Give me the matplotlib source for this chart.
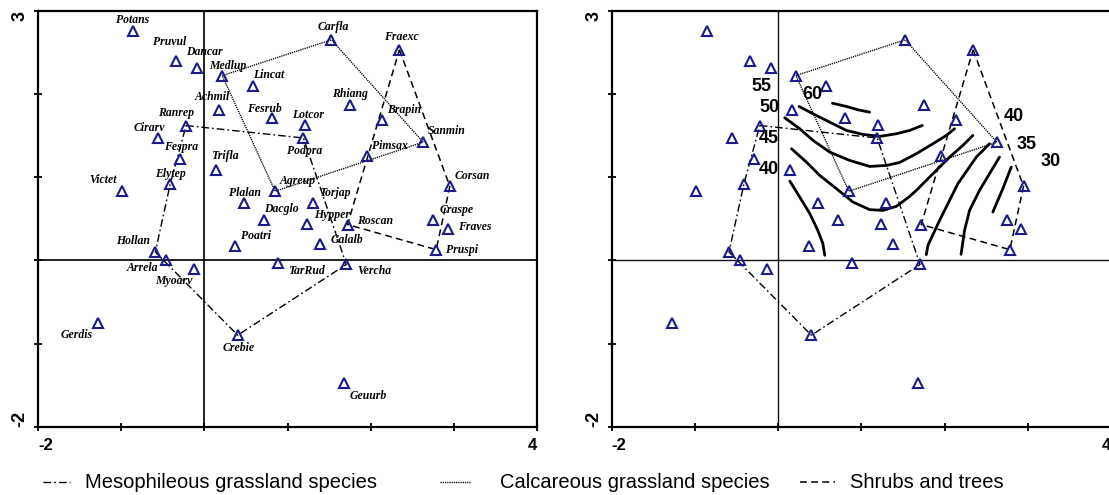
import matplotlib
matplotlib.use("Agg")
import matplotlib.pyplot as plt
from matplotlib.lines import Line2D

# ---------------- data ----------------
species = ["Potans", "Pruvul", "Dancar", "Medlup", "Lincat", "Achmil", "Fesrub",
           "Ranrep", "Cirarv", "Fespra", "Trifla", "Elytep", "Victet", "Plalan",
           "Agreup", "Dacglo", "Carfla", "Fraexc", "Rhiang", "Brapin", "Lotcor",
           "Podpra", "Sanmin", "Pimsax", "Corsan", "Torjap", "Hypper", "Roscan",
           "Craspe", "Fraves", "Galalb", "Pruspi", "TarRud", "Vercha", "Geuurb",
           "Poatri", "Hollan", "Arrela", "Myoarv", "Gerdis", "Crebie"]
axis1 = [-0.86, -0.34, -0.087, 0.214, 0.58, 0.17, 0.81,
         -0.22, -0.556, -0.29, 0.14, -0.41, -0.985, 0.48,
         0.85, 0.72, 1.526, 2.344, 1.75, 2.136, 1.205,
         1.19, 2.63, 1.955, 2.95, 1.30, 1.233, 1.72,
         2.75, 2.925, 1.385, 2.786, 0.89, 1.706, 1.68,
         0.37, -0.59, -0.456, -0.13, -1.28, 0.40]
axis2 = [2.76, 2.40, 2.31, 2.22, 2.10, 1.81, 1.71,
         1.62, 1.47, 1.22, 1.09, 0.92, 0.83, 0.69,
         0.83, 0.49, 2.65, 2.53, 1.87, 1.69, 1.63,
         1.47, 1.42, 1.25, 0.89, 0.69, 0.436, 0.43,
         0.48, 0.376, 0.20, 0.128, -0.03, -0.05, -1.47,
         0.168, 0.10, 0.0, -0.10, -0.756, -0.90]

# species groups (hull vertices, by name)
meso_hull = ["Ranrep", "Podpra", "Vercha", "Crebie", "Hollan", "Elytep", "Ranrep"]
calc_hull = ["Medlup", "Carfla", "Sanmin", "Agreup", "Medlup"]
shrub_hull = ["Fraexc", "Corsan", "Pruspi", "Roscan", "Fraexc"]

group_labels = ["Mesophileous grassland species", "Calcareous grassland species",
                "Shrubs and trees"]

# isolines (level, x values, y values)
iso_levels = [60, 55, 50, 45, 40, 40, 35, 30]
iso_x = [
    [0.653, 0.821, 0.961, 1.101],
    [0.252, 0.420, 0.621, 0.821, 1.020, 1.221, 1.421, 1.581, 1.734],
    [0.080, 0.260, 0.420, 0.621, 0.861, 1.101, 1.301, 1.461, 1.661, 1.861, 2.022, 2.121],
    [0.161, 0.341, 0.501, 0.701, 0.900, 1.101, 1.261, 1.421, 1.581, 1.661, 1.861, 2.061, 2.221, 2.341],
    [0.141, 0.260, 0.381, 0.477, 0.537, 0.561],
    [2.541, 2.382, 2.161, 1.941, 1.801, 1.781],
    [2.661, 2.541, 2.421, 2.301, 2.241, 2.199],
    [2.802, 2.701, 2.581],
]
iso_y = [
    [1.888, 1.849, 1.809, 1.780],
    [1.849, 1.761, 1.660, 1.561, 1.513, 1.489, 1.521, 1.561, 1.621],
    [1.713, 1.581, 1.441, 1.300, 1.200, 1.128, 1.140, 1.176, 1.281, 1.401, 1.501, 1.581],
    [1.341, 1.180, 1.020, 0.861, 0.700, 0.609, 0.600, 0.648, 0.768, 0.840, 1.041, 1.240, 1.381, 1.501],
    [0.952, 0.760, 0.561, 0.360, 0.204, 0.060],
    [1.401, 1.240, 0.921, 0.480, 0.180, 0.068],
    [1.240, 1.041, 0.840, 0.600, 0.360, 0.072],
    [1.120, 0.861, 0.580],
]
iso_label_x = [0.408, -0.199, -0.108, -0.108, -0.108, 2.829, 2.982, 3.282]
iso_label_y = [1.989, 2.089, 1.833, 1.461, 1.089, 1.732, 1.393, 1.188]

# ---------------- styling ----------------
label_offsets = {  # pixel offsets of label centre from marker (dx, dy up)
    "Potans": (0, 11), "Pruvul": (-6, 19), "Dancar": (7.5, 16), "Medlup": (6, 9.6),
    "Lincat": (16, 11), "Achmil": (-6, 12.6), "Fesrub": (-7.7, 9), "Ranrep": (-10, 12.3),
    "Cirarv": (-8.3, 10.3), "Fespra": (0.7, 11.3), "Trifla": (9, 13.6), "Elytep": (0, 9.7),
    "Victet": (-19, 11), "Plalan": (0.7, 10), "Agreup": (22.5, 10.7), "Dacglo": (16.7, 10.7),
    "Carfla": (1.5, 13), "Fraexc": (2, 13), "Rhiang": (0, 11), "Brapin": (22.3, 10),
    "Lotcor": (3.7, 10), "Podpra": (1.7, -12.7), "Sanmin": (23.3, 11), "Pimsax": (23.3, 10),
    "Corsan": (22.7, 10), "Torjap": (22, 9.4), "Hypper": (25.3, 8.7), "Roscan": (27.4, 3.3),
    "Craspe": (23.3, 10.3), "Fraves": (27, 2), "Galalb": (27, 3.3), "Pruspi": (26, -0.7),
    "TarRud": (28, -8.7), "Vercha": (28, -6.4), "Geuurb": (24.5, -13), "Poatri": (21, 10),
    "Hollan": (-22, 10.7), "Arrela": (-24.3, -7.7), "Myoarv": (-19.8, -12.3),
    "Gerdis": (-21, -12), "Crebie": (0.7, -12.4),
}

styles = [dict(dashes=(5.5, 2.2, 1.2, 2.2), lw=1.0),
          dict(dashes=(0.9, 0.7), lw=1.0),
          dict(dashes=(4.5, 2.8), lw=1.1)]
hulls = [meso_hull, calc_hull, shrub_hull]
mcolor = "#1b1b8a"

W, H = 1109, 495
fig = plt.figure(figsize=(W / 100, H / 100), dpi=100)
ppu = 83.2
ax1 = fig.add_axes([38 / W, 1 - 426.7 / H, 6 * ppu / W, 5 * ppu / H])
ax2 = fig.add_axes([611.7 / W, 1 - 426.7 / H, 6 * ppu / W, 5 * ppu / H])

idx = {n: i for i, n in enumerate(species)}

for k, ax in enumerate([ax1, ax2]):
    ax.set_xlim(-2, 4)
    ax.set_ylim(-2, 3)
    ax.axhline(0, color="#111111", lw=1.3 if k == 0 else 1.0, zorder=1)
    ax.axvline(0, color="#111111", lw=1.3 if k == 0 else 1.0, zorder=1)
    for hull, st in zip(hulls, styles):
        hx = [axis1[idx[n]] for n in hull]
        hy = [axis2[idx[n]] for n in hull]
        ax.plot(hx, hy, color="black", dash_capstyle="butt", zorder=2, **st)
    ax.plot(axis1, axis2, linestyle="none", marker="^", markersize=6.5,
            markerfacecolor="none", markeredgecolor=mcolor, markeredgewidth=1.5, zorder=4)
    for s in ax.spines.values():
        s.set_linewidth(1.6)
    ax.set_xticks(range(-2, 5))
    ax.set_yticks(range(-2, 4))
    ax.set_xticklabels(["-2", "", "", "", "", "", "4"])
    ax.set_yticklabels(["-2", "", "", "", "", "3"])
    ax.tick_params(direction="inout", length=6, width=1.3, pad=5)
    for t in ax.get_xticklabels():
        t.set_fontfamily("Liberation Sans")
        t.set_fontweight("bold")
        t.set_fontsize(12)
    xt = ax.get_xticklabels()
    xt[0].set_horizontalalignment("left")
    xt[-1].set_horizontalalignment("right")
    for t in ax.get_yticklabels():
        t.set_fontfamily("Liberation Sans")
        t.set_fontweight("bold")
        t.set_fontsize(13)
        t.set_rotation(90)
    yt = ax.get_yticklabels()
    yt[0].set_verticalalignment("bottom")
    yt[-1].set_verticalalignment("top")
    yt[0].set_horizontalalignment("center")
    yt[-1].set_horizontalalignment("center")
    ax.tick_params(axis="y", pad=10)

# species labels on the left panel
for n, x, y in zip(species, axis1, axis2):
    dx, dy = label_offsets[n]
    ax1.annotate(n, (x, y), xytext=(dx, dy), textcoords="offset pixels",
                 ha="center", va="center", fontsize=8.5, fontweight="bold",
                 fontstyle="italic", fontfamily="Liberation Serif", zorder=5)

# isolines on the right panel
for lv, xs, ys, lx, ly in zip(iso_levels, iso_x, iso_y, iso_label_x, iso_label_y):
    ax2.plot(xs, ys, color="black", lw=2.0, solid_capstyle="round", zorder=3)
    ax2.text(lx, ly, str(lv), ha="center", va="center", fontsize=13,
             fontweight="bold", fontfamily="Liberation Sans", zorder=5)

# legend below the panels (figure coords)
ly = 1 - 482 / H
items = [(43, 70, 85), (440, 470, 500), (800, 835, 850)]
for (h0, h1, tx), st, lab in zip(items, styles, group_labels):
    fig.add_artist(Line2D([h0 / W, h1 / W], [ly, ly], color="black",
                          dash_capstyle="butt", transform=fig.transFigure, **st))
    fig.text(tx / W, ly, lab, ha="left", va="center", fontsize=14.5,
             fontfamily="Liberation Sans")

fig.savefig("out.png", dpi=100)
